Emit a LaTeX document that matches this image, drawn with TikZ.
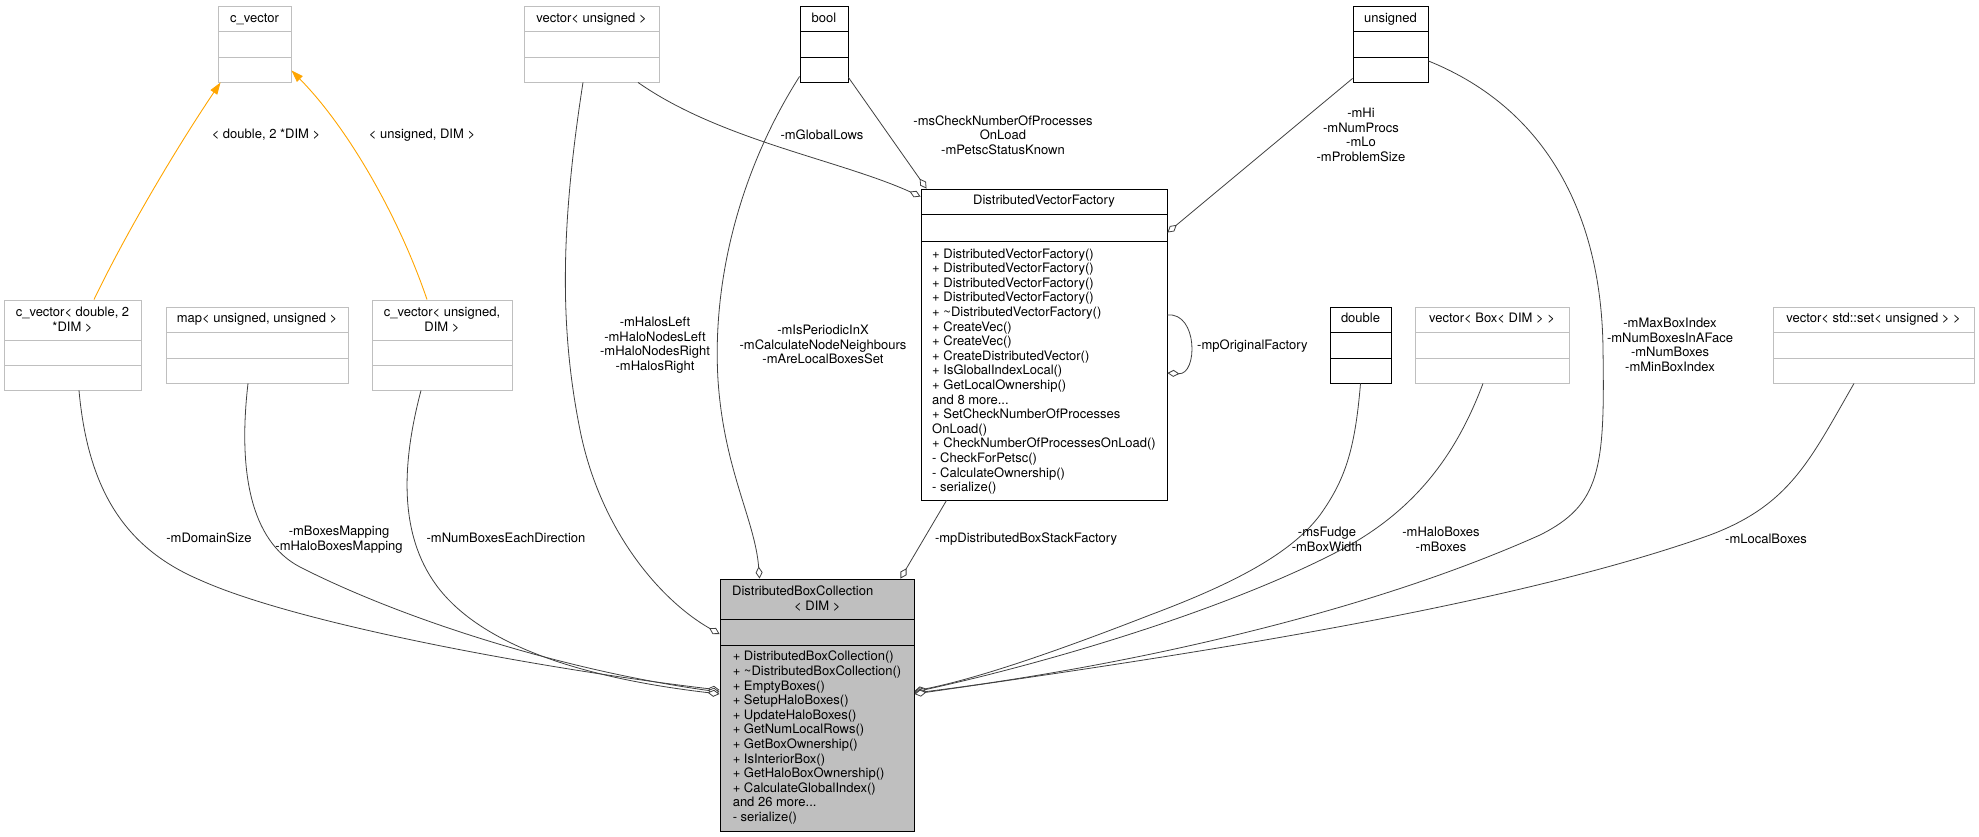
\documentclass[tikz,border=0pt]{standalone}
\usepackage{fontspec}
\setmainfont{TeX Gyre Heros}
\usetikzlibrary{arrows.meta}
\definecolor{clsgray}{HTML}{BFBFBF}
\definecolor{edgegray}{HTML}{404040}
\definecolor{inhorange}{HTML}{FFA500}
\tikzset{
  cls/.style={draw=clsgray, line width=0.9pt, inner sep=0pt, fill=white},
  clsdark/.style={draw=black, line width=0.9pt, inner sep=0pt, fill=white},
  hdr/.style={inner sep=0pt, font=\fontsize{13pt}{14.6pt}\selectfont, text height=9.4pt, text depth=2.7pt},
  txt/.style={inner sep=0pt, font=\fontsize{13pt}{14.6pt}\selectfont, align=center},
  meth/.style={inner sep=0pt, font=\fontsize{13pt}{14.6pt}\selectfont, align=left, anchor=north},
  assoc/.style={draw=edgegray, line width=0.8pt, -{Diamond[length=12pt,width=7pt,fill=white]}},
  inherit/.style={draw=inhorange, line width=0.9pt, -{Triangle[length=12pt,width=8pt]}},
}
\begin{document}
\begin{tikzpicture}[x=1pt,y=-1pt]
\useasboundingbox (0,0) rectangle (1979,837);

% classes
\node[cls, minimum width=73, minimum height=76] (cvec) at (254.5,44) {};
\node[cls, minimum width=137, minimum height=90] (cvecdbl) at (72.5,345) {};
\node[cls, minimum width=182, minimum height=76] (mapuu) at (257,345) {};
\node[cls, minimum width=140, minimum height=90] (cvecuns) at (442,345) {};
\node[cls, minimum width=135, minimum height=76] (vecuns) at (591.5,44) {};
\node[clsdark, minimum width=48, minimum height=76] (bool) at (824,44) {};
\node[clsdark, minimum width=75, minimum height=76] (unsigned) at (1390.5,44) {};
\node[clsdark, minimum width=246, minimum height=311] (dvf) at (1044,344.5) {};
\node[clsdark, fill=clsgray, minimum width=194, minimum height=252] (dbc) at (817,705) {};
\node[clsdark, minimum width=61, minimum height=76] (double) at (1360.5,345) {};
\node[cls, minimum width=154, minimum height=76] (vecbox) at (1492,345) {};
\node[cls, minimum width=201, minimum height=76] (vecset) at (1873.5,345) {};

% compartments
\draw[clsgray, line width=0.9pt] (218,31) -- (291,31) (218,57) -- (291,57);
\draw[clsgray, line width=0.9pt] (4,340) -- (141,340) (4,365) -- (141,365);
\draw[clsgray, line width=0.9pt] (166,332) -- (348,332) (166,358) -- (348,358);
\draw[clsgray, line width=0.9pt] (372,340) -- (512,340) (372,365) -- (512,365);
\draw[clsgray, line width=0.9pt] (524,31) -- (659,31) (524,57) -- (659,57);
\draw[black, line width=0.9pt] (800,31) -- (848,31) (800,57) -- (848,57);
\draw[black, line width=0.9pt] (1353,31) -- (1428,31) (1353,57) -- (1428,57);
\draw[black, line width=0.9pt] (921,214) -- (1167,214) (921,241) -- (1167,241);
\draw[black, line width=0.9pt] (720,619) -- (914,619) (720,645) -- (914,645);
\draw[black, line width=0.9pt] (1330,332) -- (1391,332) (1330,358) -- (1391,358);
\draw[clsgray, line width=0.9pt] (1415,332) -- (1569,332) (1415,358) -- (1569,358);
\draw[clsgray, line width=0.9pt] (1773,332) -- (1974,332) (1773,358) -- (1974,358);

% class names
\node[hdr] (cvecT) at (254.5,19) {c\_vector};
\node[hdr] (vecunsT) at (591.5,19) {vector< unsigned >};
\node[hdr] (boolT) at (824,19) {bool};
\node[hdr] (unsignedT) at (1390.5,19) {unsigned};
\node[hdr] (mapuuT) at (257,319.5) {map< unsigned, unsigned >};
\node[hdr] (doubleT) at (1360.5,319.5) {double};
\node[hdr] (vecboxT) at (1492,319.5) {vector< Box< DIM > >};
\node[hdr] (vecsetT) at (1873.5,319.5) {vector< std::set< unsigned > >};
\node[hdr] (dvfT) at (1044,201.5) {DistributedVectorFactory};
\node[txt] (cvecdblT) at (72.5,320) {c\_vector< double, 2\\*DIM >};
\node[txt] (cvecunsT) at (442,320) {c\_vector< unsigned,\\DIM >};
\node[txt, align=left, anchor=north west] (dbcT) at (732,585.5) {DistributedBoxCollection\\\hspace*{62pt}< DIM >};

% methods
\node[meth] (dvfM) at (1044,248.5) {+ DistributedVectorFactory()\\+ DistributedVectorFactory()\\+ DistributedVectorFactory()\\+ DistributedVectorFactory()\\+ \textasciitilde DistributedVectorFactory()\\+ CreateVec()\\+ CreateVec()\\+ CreateDistributedVector()\\+ IsGlobalIndexLocal()\\+ GetLocalOwnership()\\and 8 more...\\+ SetCheckNumberOfProcesses\\OnLoad()\\+ CheckNumberOfProcessesOnLoad()\\- CheckForPetsc()\\- CalculateOwnership()\\- serialize()};
\node[meth] (dbcM) at (817,651) {+ DistributedBoxCollection()\\+ \textasciitilde DistributedBoxCollection()\\+ EmptyBoxes()\\+ SetupHaloBoxes()\\+ UpdateHaloBoxes()\\+ GetNumLocalRows()\\+ GetBoxOwnership()\\+ IsInteriorBox()\\+ GetHaloBoxOwnership()\\+ CalculateGlobalIndex()\\and 26 more...\\- serialize()};

% inheritance
\draw[inherit] ([xshift=21.5]cvecdbl.north) .. controls (125,235) and (175,150) .. ([xshift=3]cvec.south west);
\draw[inherit] ([xshift=-15]cvecuns.north) .. controls (400,220) and (350,130) .. ([yshift=12]cvec.south east);
\node[txt] (lDbl) at (266,135) {< double, 2 *DIM >};
\node[txt] (lUns) at (422,135) {< unsigned, DIM >};

% members of DistributedVectorFactory
\draw[assoc] ([xshift=46.5]vecuns.south) .. controls (720,140) and (840,160) .. ([yshift=-8]dvf.north west);
\draw[assoc] ([yshift=5]bool.south east) -- ([xshift=6]dvf.north west);
\draw[assoc] ([yshift=4]unsigned.south west) -- ([yshift=-44]dvf.north east);
\draw[assoc] ([yshift=29.5]dvf.east) .. controls (1198,312) and (1198,375) .. ([yshift=-28.5]dvf.east);
\node[txt] (lLows) at (822,135) {-mGlobalLows};
\node[txt] (lCheck) at (1003,135) {-msCheckNumberOfProcesses\\OnLoad\\-mPetscStatusKnown};
\node[txt] (lProcs) at (1361,134.7) {-mHi\\-mNumProcs\\-mLo\\-mProblemSize};
\node[txt, anchor=west] (lOrig) at (1197,346) {-mpOriginalFactory};

% members of DistributedBoxCollection
\draw[assoc] ([xshift=6.5]cvecdbl.south) .. controls (88,490) and (125,548) .. (200,580) .. controls (300,625) and (550,670) .. ([yshift=15]dbc.west);
\draw[assoc] ([xshift=-9]mapuu.south) .. controls (238,470) and (250,541) .. (300,567) .. controls (400,618) and (560,670) .. ([yshift=13]dbc.west);
\draw[assoc] ([xshift=-21]cvecuns.south) .. controls (400,470) and (400,540) .. (440,590) .. controls (490,652) and (600,680) .. ([yshift=11]dbc.west);
\draw[assoc] ([xshift=-8.5]vecuns.south) .. controls (560,230) and (560,330) .. (580,430) .. controls (600,530) and (660,600) .. ([yshift=71]dbc.west);
\draw[assoc] ([yshift=6]bool.south west) .. controls (740,170) and (712,280) .. (718,380) .. controls (724,470) and (755,520) .. ([xshift=40]dbc.north west);
\draw[assoc] ([xshift=-97.5]dvf.south) -- ([xshift=-14]dbc.north east);
\draw[assoc] (double.south) .. controls (1355,450) and (1345,480) .. (1320,515) .. controls (1290,555) and (1230,585) .. (1150,615) .. controls (1060,650) and (980,678) .. ([yshift=14]dbc.east);
\draw[assoc] ([xshift=-9]vecbox.south) .. controls (1458,450) and (1420,505) .. (1350,545) .. controls (1240,605) and (1060,660) .. ([yshift=13]dbc.east);
\draw[assoc] ([yshift=-17]unsigned.east) .. controls (1550,110) and (1602,220) .. (1603,350) .. controls (1605,470) and (1600,505) .. (1540,535) .. controls (1350,620) and (1100,670) .. ([yshift=12]dbc.east);
\draw[assoc] ([xshift=-19.5]vecset.south) .. controls (1810,460) and (1790,505) .. (1710,535) .. controls (1500,610) and (1150,660) .. ([yshift=11]dbc.east);
\node[txt] (lDomain) at (209,538) {-mDomainSize};
\node[txt] (lMapping) at (339,539.5) {-mBoxesMapping\\-mHaloBoxesMapping};
\node[txt] (lNumBoxes) at (506,538) {-mNumBoxesEachDirection};
\node[txt] (lHalos) at (655,345) {-mHalosLeft\\-mHaloNodesLeft\\-mHaloNodesRight\\-mHalosRight};
\node[txt] (lFlags) at (823,344.5) {-mIsPeriodicInX\\-mCalculateNodeNeighbours\\-mAreLocalBoxesSet};
\node[txt] (lStack) at (1026,539) {-mpDistributedBoxStackFactory};
\node[txt] (lFudge) at (1327,539.5) {-msFudge\\-mBoxWidth};
\node[txt] (lHalo) at (1441,539.5) {-mHaloBoxes\\-mBoxes};
\node[txt] (lIndex) at (1670,345) {-mMaxBoxIndex\\-mNumBoxesInAFace\\-mNumBoxes\\-mMinBoxIndex};
\node[txt] (lLocal) at (1766,539) {-mLocalBoxes};
\end{tikzpicture}
\end{document}
